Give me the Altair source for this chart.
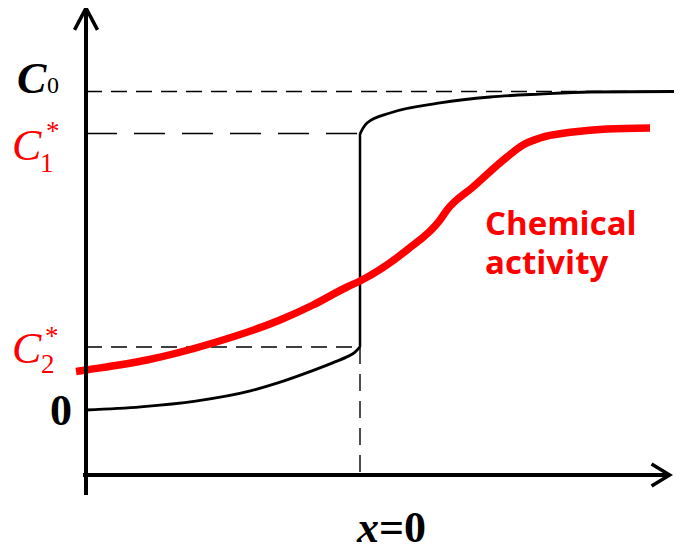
import altair as alt
import pandas as pd

# ---- levels (concentration units, C0 = 1) ----
LEVEL_C0 = 1.0
LEVEL_C1 = 0.868
LEVEL_C2 = 0.198
LEVEL_ZERO = 0.0
X_AXIS_Y = -0.204     # where the horizontal axis crosses
Y_AXIS_X = -1.0       # where the vertical axis stands
Y_AXIS_BOTTOM = -0.267
Y_AXIS_TOP = 1.262
X_AXIS_RIGHT = 1.13

X_DOMAIN = [-1.2847, 1.146]
Y_DOMAIN = [-0.4333, 1.2622]

# ---- black concentration profile ----
left_x = [-1.0, -0.8, -0.6, -0.4, -0.3, -0.2, -0.1, -0.05, -0.02, 0.0]
left_y = [0.0, 0.010, 0.028, 0.060, 0.085, 0.115, 0.148, 0.166, 0.180, 0.198]
right_x = [0.0, 0.011, 0.0255, 0.1095, 0.292, 0.4745, 0.657, 0.839, 1.146]
right_y = [0.8666, 0.885, 0.901, 0.9325, 0.964, 0.9827, 0.992, 0.9984, 1.0]

# ---- red chemical activity ----
red_x = [-1.0365, -1.0, -0.7774, -0.5365, -0.292, -0.1715, -0.0474, 0.0, 0.1715, 0.292, 0.3175,
         0.4124, 0.5365, 0.5949, 0.657, 0.7774, 0.9015, 1.0584]
red_y = [0.1209, 0.1256, 0.157, 0.2104, 0.2826, 0.3297, 0.3862, 0.405, 0.5024, 0.5965, 0.628,
         0.7002, 0.7943, 0.832, 0.854, 0.8728, 0.8823, 0.8854]

xs = alt.Scale(domain=X_DOMAIN, nice=False, zero=False)
ys = alt.Scale(domain=Y_DOMAIN, nice=False, zero=False)


def X(f="x"):
    return alt.X(f"{f}:Q", scale=xs, axis=None)


def Y(f="y"):
    return alt.Y(f"{f}:Q", scale=ys, axis=None)


# axes
yaxis = alt.Chart(pd.DataFrame({"x": [Y_AXIS_X], "y": [Y_AXIS_BOTTOM], "y2": [Y_AXIS_TOP]})).mark_rule(
    color="black", strokeWidth=4).encode(x=X(), y=Y(), y2="y2:Q")
xaxis = alt.Chart(pd.DataFrame({"x": [-1.011], "x2": [X_AXIS_RIGHT], "y": [X_AXIS_Y]})).mark_rule(
    color="black", strokeWidth=4).encode(x=X(), x2="x2:Q", y=Y())

arrow_up = alt.Chart(pd.DataFrame({"x": [Y_AXIS_X], "y": [Y_AXIS_TOP]})).mark_point(
    shape="M-1,1.9L0,0L1,1.9", filled=False, size=529, color="black", strokeWidth=3.5, opacity=1
).encode(x=X(), y=Y())
arrow_right = alt.Chart(pd.DataFrame({"x": [X_AXIS_RIGHT], "y": [X_AXIS_Y]})).mark_point(
    shape="M-1.64,-1L0,0L-1.64,1", filled=False, size=484, color="black", strokeWidth=3.5, opacity=1
).encode(x=X(), y=Y())

# dashed guides
dash_short = pd.DataFrame({"x": [Y_AXIS_X, Y_AXIS_X], "x2": [1.146, 0.0], "y": [LEVEL_C0, LEVEL_C2]})
guides_short = alt.Chart(dash_short).mark_rule(color="black", strokeWidth=1.4, strokeDash=[16, 9]).encode(
    x=X(), x2="x2:Q", y=Y())
dash_long = pd.DataFrame({"x": [Y_AXIS_X], "x2": [0.0], "y": [LEVEL_C1]})
guides_long = alt.Chart(dash_long).mark_rule(color="black", strokeWidth=1.4, strokeDash=[31, 17]).encode(
    x=X(), x2="x2:Q", y=Y())
vdash = alt.Chart(pd.DataFrame({"x": [0.0], "y": [LEVEL_C2], "y2": [X_AXIS_Y]})).mark_rule(
    color="black", strokeWidth=1.4, strokeDash=[17, 10]).encode(x=X(), y=Y(), y2="y2:Q")

# black profile
left_df = pd.DataFrame({"x": left_x, "y": left_y})
right_df = pd.DataFrame({"x": right_x, "y": right_y})
left_line = alt.Chart(left_df).mark_line(color="black", strokeWidth=2.8, interpolate="monotone").encode(
    x=X(), y=Y())
right_line = alt.Chart(right_df).mark_line(color="black", strokeWidth=2.8, interpolate="monotone").encode(
    x=X(), y=Y())
jump = alt.Chart(pd.DataFrame({"x": [0.0], "y": [LEVEL_C2], "y2": [LEVEL_C1]})).mark_rule(
    color="black", strokeWidth=2.5).encode(x=X(), y=Y(), y2="y2:Q")

# red activity
red_df = pd.DataFrame({"x": red_x, "y": red_y})
red_line = alt.Chart(red_df).mark_line(color="#ff0000", strokeWidth=7.5, interpolate="monotone",
                                       strokeCap="butt").encode(x=X(), y=Y())

SERIF = "Liberation Serif"


def text_layer(df, **kw):
    base = dict(align="left", baseline="alphabetic", font=SERIF)
    base.update(kw)
    return alt.Chart(df).mark_text(**base).encode(x=X(), y=Y(), text="t:N")


# labels
c0_big = text_layer(pd.DataFrame({"x": [-1.2518], "y": [0.9953], "t": ["C"]}),
                    fontSize=44, fontStyle="italic", fontWeight="bold", color="black")
c0_sub = text_layer(pd.DataFrame({"x": [-1.1423], "y": [0.9953], "t": ["0"]}),
                    fontSize=24, color="black")
c_red = text_layer(pd.DataFrame({"x": [-1.27, -1.27], "y": [0.785, 0.1476], "t": ["C", "C"]}),
                   fontSize=44, fontStyle="italic", color="#ff0000")
sub_red = text_layer(pd.DataFrame({"x": [-1.168, -1.1642], "y": [0.7473, 0.1162], "t": ["1", "2"]}),
                     fontSize=27, color="#ff0000")
star_red = text_layer(pd.DataFrame({"x": [-1.146, -1.1496], "y": [0.8477, 0.2041], "t": ["*", "*"]}),
                      fontSize=27, color="#ff0000")
zero_lbl = text_layer(pd.DataFrame({"x": [-1.1314], "y": [-0.0471], "t": ["0"]}),
                      fontSize=44, fontWeight="bold", color="black")
x_lbl = text_layer(pd.DataFrame({"x": [0.0693], "y": [-0.4150], "t": ["x"]}),
                   align="right", fontSize=44, fontStyle="italic", fontWeight="bold", color="black")
eq_lbl = text_layer(pd.DataFrame({"x": [0.0693], "y": [-0.4150], "t": ["=0"]}),
                    fontSize=44, fontWeight="bold", color="black")
chem = text_layer(pd.DataFrame({"x": [0.4562, 0.4562], "y": [0.5494, 0.4270], "t": ["Chemical", "activity"]}),
                  font="Open Sans", fontSize=33, fontWeight="bold", color="#ff0000")

chart = alt.layer(
    guides_short, guides_long, vdash,
    left_line, right_line, jump,
    red_line,
    yaxis, xaxis, arrow_up, arrow_right,
    c0_big, c0_sub, c_red, sub_red, star_red, zero_lbl, x_lbl, eq_lbl, chem,
).properties(
    width=666, height=540, padding=0, background="white",
    autosize=alt.AutoSizeParams(type="none"),
).configure_view(stroke=None)

chart.save("out.html", embed_options={"renderer": "svg", "actions": False})
